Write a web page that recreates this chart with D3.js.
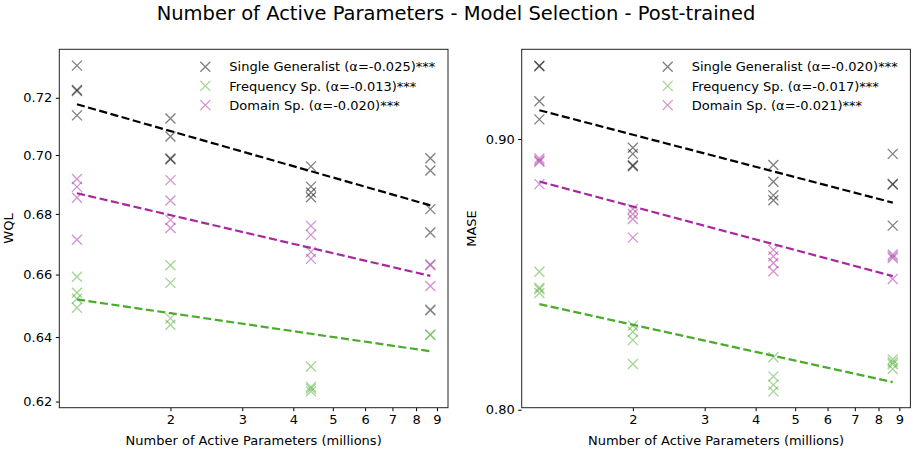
<!DOCTYPE html>
<html>
<head>
<meta charset="utf-8">
<script src="https://cdn.jsdelivr.net/npm/d3@7"></script>
<style>
  body { margin: 0; background: #fff; }
</style>
</head>
<body>
<svg id="chart" width="913" height="451" style="font-family: 'DejaVu Sans'"></svg>
<script>
// active parameters (millions) for the four model sizes
const params = [1.18, 2.0, 4.42, 8.67]

const seriesNames = ["Single Generalist", "Frequency Sp.", "Domain Sp."]
const seriesColors = ["#000000", "#4aab2c", "#a8289f"]

// WQL, one row of runs per model size
const wqlGeneralist = [[0.7315, 0.7228, 0.7224, 0.7138], [0.7127, 0.7064, 0.6988, 0.6985], [0.6961, 0.6892, 0.6872, 0.6856], [0.6989, 0.6947, 0.6816, 0.6738]]
const wqlFrequency = [[0.6593, 0.6541, 0.6522, 0.6493], [0.6630, 0.6573, 0.6459, 0.6439], [0.6308, 0.6245, 0.6239, 0.6231], [0.6487, 0.6484, 0.6408, 0.6406]]
const wqlDomain = [[0.6918, 0.6891, 0.6854, 0.6714], [0.6914, 0.6845, 0.6780, 0.6753], [0.6760, 0.6730, 0.6674, 0.6651], [0.6633, 0.6630, 0.6563, 0.6486]]
const wqlAlphas = ["-0.025", "-0.013", "-0.020"]
const wqlTicks = [0.62, 0.64, 0.66, 0.68, 0.70, 0.72]

// MASE
const maseGeneralist = [[0.9292, 0.9289, 0.9149, 0.9077], [0.8966, 0.8942, 0.8898, 0.8894], [0.8899, 0.8834, 0.8782, 0.8763], [0.8942, 0.8826, 0.8823, 0.8667]]
const maseFrequency = [[0.8495, 0.8436, 0.8430, 0.8417], [0.8298, 0.8276, 0.8246, 0.8161], [0.8185, 0.8117, 0.8087, 0.8064], [0.8177, 0.8167, 0.8160, 0.8143]]
const maseDomain = [[0.8924, 0.8916, 0.8911, 0.8825], [0.8730, 0.8711, 0.8692, 0.8622], [0.8576, 0.8552, 0.8527, 0.8497], [0.8559, 0.8552, 0.8546, 0.8468]]
const maseAlphas = ["-0.020", "-0.017", "-0.021"]
const maseTicks = [0.80, 0.90]

const xTicks = [2, 3, 4, 5, 6, 7, 8, 9]

const svg = d3.select("#chart")
const plotTop = 49.3, plotBottom = 407.7, plotW = 388.7
const font = "DejaVu Sans"

svg.append("text")
    .attr("x", 456).attr("y", 20)
    .attr("text-anchor", "middle")
    .style("font-family", font)
    .style("font-size", "19.5px")
    .text("Number of Active Parameters - Model Selection - Post-trained")

// log-space padding like matplotlib's default 5% margin
function logExtent(values) {
    const [lo, hi] = d3.extent(values)
    const pad = (Math.log(hi) - Math.log(lo)) * 0.05
    return [Math.exp(Math.log(lo) - pad), Math.exp(Math.log(hi) + pad)]
}

// least squares in log-log space
function fitLogLog(series) {
    const pts = []
    series.forEach((runs, i) => runs.forEach(v => pts.push([Math.log(params[i]), Math.log(v)])))
    const mx = d3.mean(pts, p => p[0]), my = d3.mean(pts, p => p[1])
    const slope = d3.sum(pts, p => (p[0] - mx) * (p[1] - my)) / d3.sum(pts, p => (p[0] - mx) ** 2)
    return x => Math.exp(my + slope * (Math.log(x) - mx))
}

function drawPanel(left, yLabel, series, alphas, yTicks) {
    const xScale = d3.scaleLog().domain(logExtent(params)).range([left, left + plotW])
    const allY = series.flat(2)
    const yScale = d3.scaleLog().domain(logExtent(allY)).range([plotBottom, plotTop])

    const g = svg.append("g")

    g.append("g")
        .attr("transform", "translate(0," + plotBottom + ")")
        .call(d3.axisBottom(xScale).tickValues(xTicks).tickFormat(d3.format("d")).tickSize(3.5).tickPadding(3.5))
        .call(a => a.select(".domain").remove())
        .call(a => a.attr("font-family", font))
        .call(a => a.selectAll("text").style("font-family", font).style("font-size", "13px"))

    g.append("g")
        .attr("transform", "translate(" + left + ",0)")
        .call(d3.axisLeft(yScale).tickValues(yTicks).tickFormat(d3.format(".2f")).tickSize(3.5).tickPadding(3.5))
        .call(a => a.select(".domain").remove())
        .call(a => a.attr("font-family", font))
        .call(a => a.selectAll("text").style("font-family", font).style("font-size", "13px"))

    g.append("rect")
        .attr("x", left).attr("y", plotTop)
        .attr("width", plotW).attr("height", plotBottom - plotTop)
        .attr("fill", "none").attr("stroke", "#222").attr("stroke-width", 1)

    g.append("text")
        .attr("x", left + plotW / 2).attr("y", 445)
        .attr("text-anchor", "middle")
        .style("font-family", font)
        .style("font-size", "13px")
        .text("Number of Active Parameters (millions)")

    g.append("text")
        .attr("transform", "translate(" + (left - 46) + "," + ((plotTop + plotBottom) / 2) + ") rotate(-90)")
        .attr("text-anchor", "middle")
        .style("font-family", font)
        .style("font-size", "13px")
        .text(yLabel)

    const cross = "M-5,-5L5,5M-5,5L5,-5"

    series.forEach((runs, s) => {
        const pts = []
        runs.forEach((vals, i) => vals.forEach(v => pts.push([params[i], v])))
        g.append("g").selectAll("path")
            .data(pts)
            .enter()
            .append("path")
            .attr("d", cross)
            .attr("transform", d => "translate(" + xScale(d[0]) + "," + yScale(d[1]) + ")")
            .attr("stroke", seriesColors[s])
            .attr("stroke-opacity", 0.5)
            .attr("stroke-width", 1.3)
            .attr("fill", "none")
    })

    series.forEach((runs, s) => {
        const fit = fitLogLog(runs)
        const ends = d3.extent(params)
        const line = d3.line()
            .x(d => xScale(d))
            .y(d => yScale(fit(d)))
        g.append("path")
            .attr("d", line(ends))
            .attr("fill", "none")
            .attr("stroke", seriesColors[s])
            .attr("stroke-width", 2.2)
            .attr("stroke-dasharray", "8.1,3.5")
    })

    // legend
    const legend = g.append("g").attr("transform", "translate(" + (left + 146) + ",66.7)")
    seriesNames.forEach((name, s) => {
        const row = legend.append("g").attr("transform", "translate(0," + (s * 19.2) + ")")
        row.append("path")
            .attr("d", cross)
            .attr("stroke", seriesColors[s])
            .attr("stroke-opacity", 0.5)
            .attr("stroke-width", 1.3)
            .attr("fill", "none")
        row.append("text")
            .attr("x", 24).attr("y", 4.7)
            .style("font-family", font)
            .style("font-size", "13px")
            .text(name + " (α=" + alphas[s] + ")***")
    })
}

drawPanel(59.3, "WQL", [wqlGeneralist, wqlFrequency, wqlDomain], wqlAlphas, wqlTicks)
drawPanel(521.7, "MASE", [maseGeneralist, maseFrequency, maseDomain], maseAlphas, maseTicks)
</script>
</body>
</html>
